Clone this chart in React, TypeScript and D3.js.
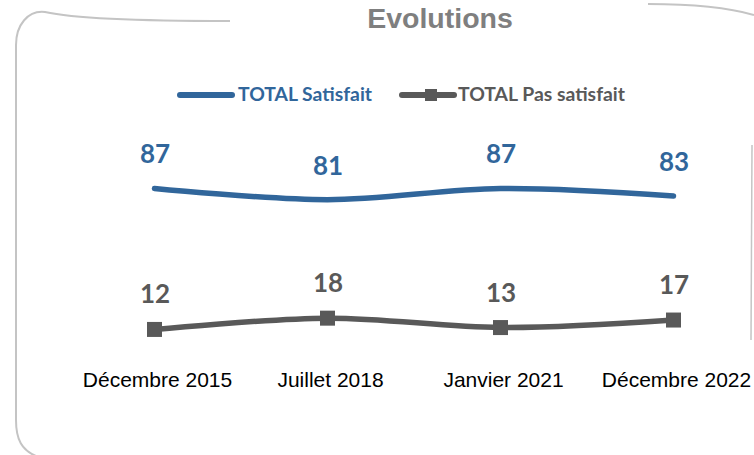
import React, { useEffect, useRef } from "react";
import * as d3 from "d3";

const categories = ["Décembre 2015", "Juillet 2018", "Janvier 2021", "Décembre 2022"];
const satisfait = [87, 81, 87, 83];
const pasSatisfait = [12, 18, 13, 17];
const seriesNames = ["TOTAL Satisfait", "TOTAL Pas satisfait"];

const App = () => {
  const svgRef = useRef<SVGSVGElement>(null);

  useEffect(() => {
    const width = 754;
    const height = 455;
    const blue = "#31669b";
    const gray = "#595959";
    const labelFont = "Lato, 'Open Sans', sans-serif";

    const svg = d3.select(svgRef.current).attr("width", width).attr("height", height);
    svg.selectAll("*").remove();

    // frame, hand-drawn look with a gap for the title
    const frame = svg.append("g").attr("fill", "none").attr("stroke", "#c4c4c4").attr("stroke-width", 2);
    frame.append("path").attr("d", "M230,21 C160,21 80,20 45,12 C28,10 16,25 16,45 L16,420 C16,440 22,450 36,456");
    frame.append("path").attr("d", "M648,4 C690,4 730,8 754,15");
    frame.append("path").attr("d", "M752,145 L751,340").attr("stroke-width", 1.5);

    // title
    svg
      .append("text")
      .attr("x", 440)
      .attr("y", 28)
      .attr("text-anchor", "middle")
      .attr("font-family", "'Liberation Sans', Arial, sans-serif")
      .attr("font-weight", "bold")
      .attr("font-size", 28.5)
      .attr("fill", "#7f7f7f")
      .text("Evolutions");

    // scales
    const x = d3.scalePoint().domain(categories).range([154.5, 673.5]);
    const y = d3.scaleLinear().domain([0, 100]).range([352, 164]);

    const line = d3
      .line<number>()
      .x((d, i) => x(categories[i]) as number)
      .y((d) => y(d))
      .curve(d3.curveCatmullRom.alpha(0.5));

    // legend
    const legend = svg.append("g").attr("font-family", labelFont).attr("font-weight", "bold").attr("font-size", 18.5);
    legend
      .append("line")
      .attr("x1", 180).attr("x2", 232).attr("y1", 95).attr("y2", 95)
      .attr("stroke", blue).attr("stroke-width", 6).attr("stroke-linecap", "round");
    legend
      .append("text").attr("x", 238).attr("y", 101).attr("fill", blue)
      .attr("textLength", 134).attr("lengthAdjust", "spacingAndGlyphs")
      .text(seriesNames[0]);
    legend
      .append("line")
      .attr("x1", 402).attr("x2", 454).attr("y1", 95).attr("y2", 95)
      .attr("stroke", gray).attr("stroke-width", 6).attr("stroke-linecap", "round");
    legend.append("rect").attr("x", 425).attr("y", 89).attr("width", 12).attr("height", 12).attr("fill", gray);
    legend
      .append("text").attr("x", 458).attr("y", 101).attr("fill", gray)
      .attr("textLength", 167).attr("lengthAdjust", "spacingAndGlyphs")
      .text(seriesNames[1]);

    // lines
    svg
      .append("path")
      .datum(satisfait)
      .attr("fill", "none")
      .attr("stroke", blue)
      .attr("stroke-width", 5.5)
      .attr("stroke-linecap", "round")
      .attr("d", line);

    svg
      .append("path")
      .datum(pasSatisfait)
      .attr("fill", "none")
      .attr("stroke", gray)
      .attr("stroke-width", 5.5)
      .attr("d", line);

    svg
      .append("g")
      .attr("fill", gray)
      .selectAll("rect")
      .data(pasSatisfait)
      .join("rect")
      .attr("x", (d, i) => (x(categories[i]) as number) - 7.5)
      .attr("y", (d) => y(d) - 7.5)
      .attr("width", 15)
      .attr("height", 15);

    // data labels
    const labels = svg.append("g").attr("font-family", labelFont).attr("font-weight", "bold").attr("font-size", 26).attr("text-anchor", "middle");
    labels
      .selectAll(".lab-s")
      .data(satisfait)
      .join("text")
      .attr("x", (d, i) => (x(categories[i]) as number) + 0.5)
      .attr("y", (d) => y(d) - 25)
      .attr("fill", blue)
      .text((d) => d);
    labels
      .selectAll(".lab-p")
      .data(pasSatisfait)
      .join("text")
      .attr("x", (d, i) => (x(categories[i]) as number) + 0.5)
      .attr("y", (d) => y(d) - 26)
      .attr("fill", gray)
      .text((d) => d);

    // category axis labels
    svg
      .append("g")
      .attr("font-family", "'Liberation Sans', Arial, sans-serif")
      .attr("font-size", 21)
      .attr("text-anchor", "middle")
      .selectAll("text")
      .data(categories)
      .join("text")
      .attr("x", (d) => (x(d) as number) + 3)
      .attr("y", 387)
      .attr("fill", "#000")
      .text((d) => d);
  }, []);

  return <svg ref={svgRef} style={{ position: "absolute", left: 0, top: 0 }}></svg>;
};

export default App;
